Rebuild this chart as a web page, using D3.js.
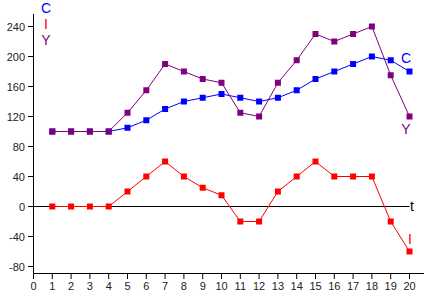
<!DOCTYPE html>
<html>
<head>
<meta charset="utf-8">
<script src="https://cdn.jsdelivr.net/npm/d3@7"></script>
<style>
  html, body { margin: 0; padding: 0; background: #fff; }
  svg { display: block; font-family: "Liberation Sans", Arial, sans-serif; }
</style>
</head>
<body>
<svg id="chart" width="424" height="296"></svg>
<script>
// data
const t = [1, 2, 3, 4, 5, 6, 7, 8, 9, 10, 11, 12, 13, 14, 15, 16, 17, 18, 19, 20];
const C = [100, 100, 100, 100, 105, 115, 130, 140, 145, 150, 145, 140, 145, 155, 170, 180, 190, 200, 195, 180];
const Y = [100, 100, 100, 100, 125, 155, 190, 180, 170, 165, 125, 120, 165, 195, 230, 220, 230, 240, 175, 120];
const I = [0, 0, 0, 0, 20, 40, 60, 40, 25, 15, -20, -20, 20, 40, 60, 40, 40, 40, -20, -60];
const xTicks = d3.range(0, 21);
const yTicks = [-80, -40, 0, 40, 80, 120, 160, 200, 240];

const svg = d3.select('#chart');
const x = d3.scaleLinear().domain([0, 20]).range([33.5, 409.5]);
const y = d3.scaleLinear().domain([-80, 240]).range([266.5, 26.5]);

// y axis
svg.append('line')
    .attr('x1', 33.5).attr('x2', 33.5)
    .attr('y1', 14).attr('y2', 273.5)
    .attr('stroke', '#000');
yTicks.forEach(v => {
    svg.append('line')
        .attr('x1', 28).attr('x2', 33.5)
        .attr('y1', y(v)).attr('y2', y(v))
        .attr('stroke', '#000');
    svg.append('text')
        .attr('x', 25).attr('y', y(v) + 4)
        .attr('text-anchor', 'end')
        .attr('font-size', 11)
        .attr('fill', '#222')
        .text(v);
});

// x axis (bottom)
svg.append('line')
    .attr('x1', 33).attr('x2', 424)
    .attr('y1', 273.5).attr('y2', 273.5)
    .attr('stroke', '#000');
xTicks.forEach(v => {
    svg.append('line')
        .attr('x1', x(v)).attr('x2', x(v))
        .attr('y1', 273.5).attr('y2', 279)
        .attr('stroke', '#000');
    svg.append('text')
        .attr('x', x(v)).attr('y', 290)
        .attr('text-anchor', 'middle')
        .attr('font-size', 11)
        .attr('fill', '#222')
        .text(v);
});

// zero line
svg.append('line')
    .attr('x1', 33).attr('x2', x(20))
    .attr('y1', y(0)).attr('y2', y(0))
    .attr('stroke', '#000');

const series = [
    { name: 'I', vals: I, color: '#ff0000' },
    { name: 'C', vals: C, color: '#0000ff' },
    { name: 'Y', vals: Y, color: '#800080' }
];

const line = d3.line().x(d => x(d[0])).y(d => y(d[1]));

series.forEach(s => {
    const pts = t.map((tt, i) => [tt, s.vals[i]]);
    svg.append('path')
        .attr('d', line(pts))
        .attr('fill', 'none')
        .attr('stroke', s.color)
        .attr('stroke-width', 1);
    svg.selectAll(null)
        .data(pts)
        .enter().append('rect')
        .attr('x', d => x(d[0]) - 3)
        .attr('y', d => y(d[1]) - 3)
        .attr('width', 6)
        .attr('height', 6)
        .attr('fill', s.color);
});

// labels
const labels = [
    { text: 'C', x: 46, y: 13, color: '#0000ff' },
    { text: 'I', x: 46, y: 29, color: '#ff0000' },
    { text: 'Y', x: 46, y: 45, color: '#800080' },
    { text: 'C', x: 406, y: 63, color: '#0000ff' },
    { text: 'Y', x: 406, y: 134, color: '#800080' },
    { text: 't', x: 412, y: 211, color: '#000' },
    { text: 'I', x: 410, y: 244, color: '#ff0000' }
];
labels.forEach(l => {
    svg.append('text')
        .attr('x', l.x).attr('y', l.y)
        .attr('text-anchor', 'middle')
        .attr('font-size', 14)
        .attr('fill', l.color)
        .text(l.text);
});
</script>
</body>
</html>
